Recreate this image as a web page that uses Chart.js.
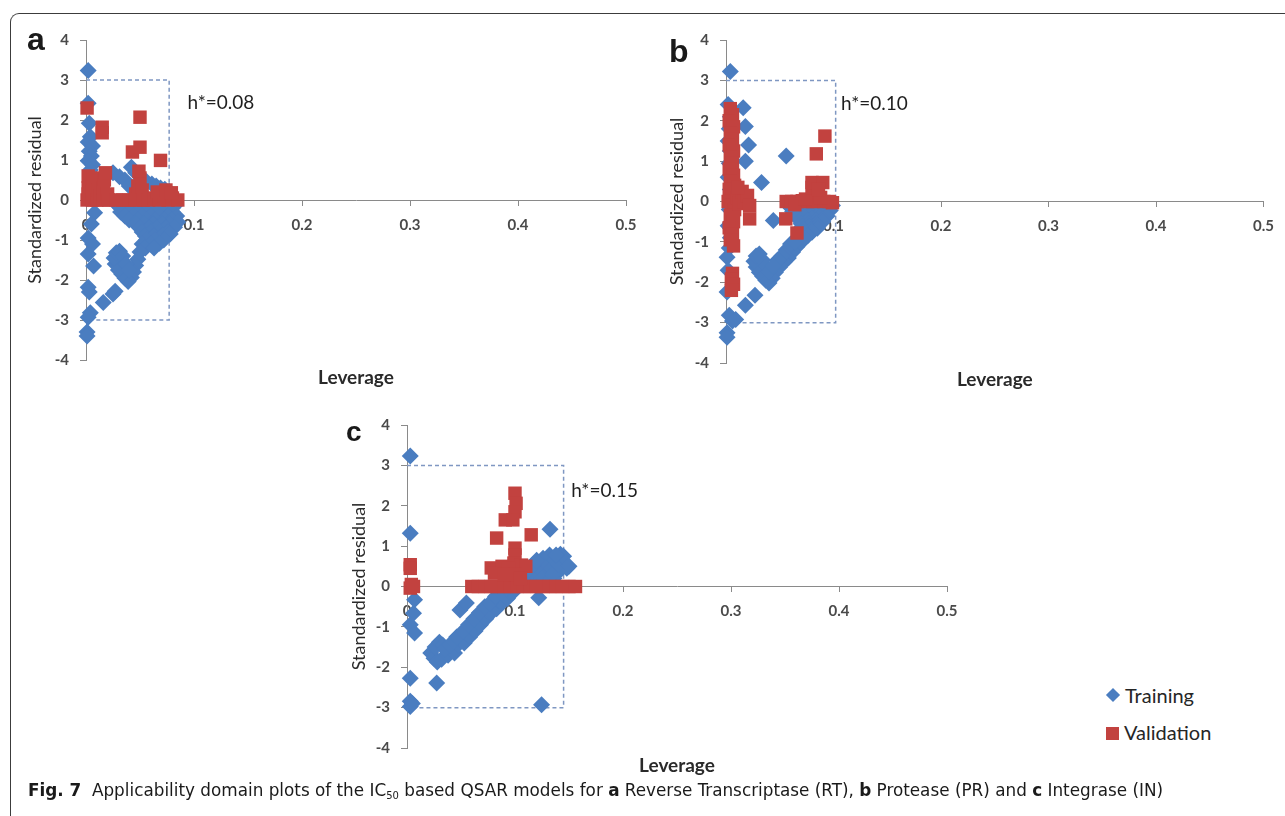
<!DOCTYPE html>
<html>
<head>
<meta charset="utf-8">
<title>Applicability domain plots</title>
<script src="https://cdn.jsdelivr.net/npm/chart.js@4.4.1/dist/chart.umd.min.js"></script>
<style>
  html, body { margin: 0; padding: 0; background: #fff; }
  body { position: relative; width: 1285px; height: 816px; overflow: hidden; font-family: Lato, "Open Sans", sans-serif; }
  .frame { position: absolute; left: 10px; top: 13px; width: 1400px; height: 900px; border-left: 1px solid #3c3c3c; border-top: 1px solid #3c3c3c; border-top-left-radius: 9px; }
  canvas { position: absolute; }
  .letter { position: absolute; font-family: "Liberation Sans", Arial, sans-serif; font-weight: bold; line-height: 1; color: #1a1a1a; }
  .legend-item { position: absolute; height: 24px; line-height: 24px; font-size: 20px; color: #262626; white-space: nowrap; }
  .legend-mark { position: absolute; }
  .caption { position: absolute; left: 28px; top: 779px; font-family: "Liberation Sans Narrow", "DejaVu Sans Condensed", "Open Sans", sans-serif; font-stretch: condensed; font-size: 18.5px; line-height: 22px; color: #1a1a1a; white-space: nowrap; transform-origin: 0 0; }
  .caption sub { font-size: 11px; vertical-align: -3px; line-height: 0; }
</style>
</head>
<body>
<div class="frame"></div>

<canvas id="chartA"></canvas>
<canvas id="chartB"></canvas>
<canvas id="chartC"></canvas>

<span class="letter" style="left:27px; top:23px; font-size:32px;">a</span>
<span class="letter" style="left:669px; top:35px; font-size:32px;">b</span>
<span class="letter" style="left:346px; top:418px; font-size:28px;">c</span>

<div id="legend"></div>

<div class="caption" id="caption"><b>Fig. 7</b>&nbsp; Applicability domain plots of the IC<sub>50</sub> based QSAR models for <b>a</b> Reverse Transcriptase (RT), <b>b</b> Protease (PR) and <b>c</b> Integrase (IN)</div>

<script>
// axis ticks
const xTicks = [0, 0.1, 0.2, 0.3, 0.4, 0.5];
const yTicks = [-4, -3, -2, -1, 0, 1, 2, 3, 4];

const seriesNames = ['Training', 'Validation'];
const seriesColors = ['#4a7dc0', '#c2423f'];
const boxColor = '#7f97c2';

// warning leverage h* (label and where the dashed line was drawn) and residual limit
const hStarLabels = ['h*=0.08', 'h*=0.10', 'h*=0.15'];
const hStarLines = [0.077, 0.102, 0.145];
const residualLimits = [-3, 3];

// a: Reverse Transcriptase [leverage, standardized residual]
const trainingA = [
  [0.002,3.24],[0.002,2.42],[0.003,1.92],[0.004,1.58],[0.002,1.45],[0.006,1.35],[0.003,1.22],[0.005,1.1],[0.002,0.98],[0.006,0.88],[0.004,0.75],
  [0.008,-0.32],[0.005,-0.6],[0.002,-0.95],[0.006,-1.1],[0.002,-1.35],[0.007,-1.65],[0.002,-2.18],[0.003,-2.3],[0.004,-2.82],[0.002,-2.93],[0.001,-3.3],[0.001,-3.4],
  [0.025,0.68],[0.031,0.58],[0.036,0.5],[0.042,0.82],[0.046,0.68],[0.051,0.55],[0.056,0.46],[0.061,0.4],[0.065,0.35],[0.069,0.3],[0.073,0.27],[0.077,0.22],[0.04,0.35],
  [0.028,-0.1],[0.036,-0.1],[0.044,-0.1],[0.052,-0.1],[0.06,-0.1],[0.068,-0.1],[0.076,-0.1],[0.083,-0.12],
  [0.032,-0.2],[0.04,-0.2],[0.048,-0.2],[0.056,-0.2],[0.064,-0.2],[0.072,-0.2],[0.08,-0.2],
  [0.032,-0.3],[0.04,-0.3],[0.048,-0.3],[0.056,-0.3],[0.064,-0.3],[0.072,-0.3],[0.08,-0.3],
  [0.036,-0.4],[0.044,-0.4],[0.052,-0.4],[0.06,-0.4],[0.068,-0.4],[0.076,-0.4],[0.084,-0.4],
  [0.04,-0.5],[0.048,-0.5],[0.056,-0.5],[0.064,-0.5],[0.072,-0.5],[0.08,-0.5],[0.085,-0.55],
  [0.046,-0.6],[0.054,-0.6],[0.062,-0.6],[0.07,-0.6],[0.078,-0.6],
  [0.05,-0.7],[0.058,-0.7],[0.066,-0.7],[0.074,-0.7],[0.082,-0.68],
  [0.052,-0.8],[0.06,-0.8],[0.068,-0.8],[0.076,-0.8],
  [0.055,-0.9],[0.063,-0.9],[0.071,-0.88],[0.078,-0.85],
  [0.056,-1.0],[0.064,-1.0],[0.072,-1.0],
  [0.052,-1.1],[0.06,-1.1],[0.068,-1.08],[0.055,-1.2],[0.063,-1.2],
  [0.05,-1.3],[0.048,-1.48],[0.046,-1.64],[0.044,-1.8],[0.042,-1.94],[0.039,-2.04],
  [0.036,-1.95],[0.033,-1.85],[0.03,-1.75],[0.027,-1.6],[0.026,-1.45],[0.028,-1.32],[0.031,-1.28],[0.034,-1.4],[0.037,-1.6],[0.04,-1.75],
  [0.016,-2.56],[0.025,-2.35],[0.027,-2.28]
];
const validationA = [
  [0.001,2.3],[0.015,1.82],[0.015,1.68],[0.05,2.07],[0.043,1.2],[0.05,1.32],[0.069,0.99],
  [0.001,0.0],[0.002,0.15],[0.002,0.3],[0.003,0.45],[0.002,0.6],[0.006,0.0],[0.006,0.2],[0.006,0.4],[0.007,0.55],[0.01,0.0],[0.011,0.25],[0.013,0.1],
  [0.016,0.0],[0.016,0.3],[0.017,0.5],[0.018,0.68],[0.02,0.15],[0.021,0.0],
  [0.046,0.15],[0.048,0.35],[0.05,0.55],[0.049,0.72],[0.052,0.25],
  [0.028,0.0],[0.034,0.0],[0.04,0.0],[0.046,0.0],[0.053,0.0],[0.058,0.0],[0.063,0.05],[0.068,0.0],[0.072,0.1],[0.076,0.0],[0.08,0.05],[0.085,0.0],
  [0.066,0.2],[0.074,0.25],[0.079,0.18]
];

// b: Protease
const trainingB = [
  [0.004,3.22],[0.002,2.4],[0.004,2.1],[0.003,1.8],[0.002,1.5],[0.004,1.25],[0.003,0.95],[0.002,0.6],[0.004,0.3],[0.003,-0.2],[0.002,-0.6],
  [0.004,-0.9],[0.003,-1.15],[0.001,-1.38],[0.002,-1.7],[0.001,-2.24],[0.003,-2.82],[0.006,-2.96],[0.009,-2.92],[0.001,-3.25],[0.001,-3.36],
  [0.016,2.32],[0.018,1.86],[0.021,1.4],[0.018,1.0],[0.033,0.47],[0.056,1.13],
  [0.018,-2.57],[0.027,-2.32],[0.044,-0.47],
  [0.058,-0.1],[0.065,-0.1],[0.072,-0.1],[0.079,-0.1],[0.086,-0.1],[0.093,-0.1],[0.099,-0.1],
  [0.061,-0.17],[0.068,-0.17],[0.075,-0.17],[0.082,-0.17],[0.089,-0.17],[0.096,-0.17],
  [0.062,-0.25],[0.069,-0.25],[0.076,-0.25],[0.083,-0.25],[0.09,-0.25],[0.097,-0.22],
  [0.065,-0.32],[0.072,-0.32],[0.079,-0.32],[0.086,-0.32],[0.093,-0.3],
  [0.066,-0.4],[0.073,-0.4],[0.08,-0.4],[0.087,-0.4],[0.094,-0.36],
  [0.069,-0.47],[0.076,-0.47],[0.083,-0.47],[0.09,-0.44],
  [0.07,-0.55],[0.077,-0.55],[0.084,-0.55],[0.09,-0.5],
  [0.071,-0.62],[0.078,-0.62],[0.085,-0.6],
  [0.072,-0.7],[0.079,-0.7],[0.085,-0.66],[0.074,-0.78],[0.08,-0.76],[0.076,-0.85],
  [0.07,-1.0],[0.066,-1.12],[0.062,-1.25],[0.058,-1.4],[0.054,-1.5],[0.05,-1.62],[0.046,-1.75],[0.043,-1.9],[0.04,-2.02],[0.056,-1.2],[0.06,-1.05],[0.052,-1.35],
  [0.073,-0.92],[0.064,-1.0],[0.048,-1.45],
  [0.037,-1.95],[0.034,-1.85],[0.031,-1.75],[0.028,-1.62],[0.026,-1.48],[0.028,-1.35],[0.031,-1.3],[0.034,-1.45],[0.037,-1.6],[0.04,-1.75],[0.044,-1.6]
];
const validationB = [
  [0.004,2.3],[0.006,2.15],[0.003,2.0],[0.007,1.85],[0.004,1.7],[0.006,1.55],[0.003,1.4],[0.007,1.25],[0.004,1.1],[0.006,0.95],[0.003,0.8],[0.007,0.65],
  [0.004,0.5],[0.008,0.4],[0.003,0.3],[0.006,0.15],[0.002,0.0],[0.005,-0.1],[0.008,-0.2],[0.004,-0.35],[0.007,-0.5],[0.003,-0.65],[0.006,-0.8],[0.004,-0.95],[0.007,-1.1],
  [0.01,0.1],[0.012,-0.05],[0.015,0.25],[0.017,0.0],[0.02,0.15],[0.022,-0.1],[0.011,0.35],[0.022,-0.43],
  [0.006,-1.78],[0.005,-1.92],[0.007,-2.05],[0.005,-2.2],
  [0.056,0.0],[0.061,0.0],[0.066,0.0],[0.071,0.02],[0.076,0.0],[0.081,0.0],[0.086,0.02],[0.091,0.0],[0.096,0.0],[0.099,-0.03],[0.064,-0.08],[0.074,0.06],[0.088,0.1],
  [0.08,0.35],[0.08,0.47],[0.09,0.47],[0.086,0.3],[0.084,1.18],[0.092,1.62],[0.0556,-0.43],[0.066,-0.78]
];

// c: Integrase
const trainingC = [
  [0.003,3.23],[0.003,1.32],[0.007,-0.33],[0.006,-0.66],[0.003,-0.95],[0.007,-1.15],[0.003,-2.27],[0.003,-2.84],[0.003,-2.97],[0.005,-2.9],
  [0.0275,-2.39],[0.1246,-2.93],[0.1324,1.42],
  [0.022,-1.65],[0.025,-1.78],[0.028,-1.87],[0.032,-1.8],[0.026,-1.5],[0.03,-1.38],[0.033,-1.45],
  [0.038,-1.7],[0.041,-1.55],[0.044,-1.65],[0.047,-1.45],[0.05,-1.3],[0.053,-1.4],[0.055,-1.15],[0.058,-1.25],[0.06,-1.0],[0.063,-1.1],
  [0.065,-0.85],[0.068,-0.95],[0.07,-0.7],[0.073,-0.8],[0.075,-0.6],[0.078,-0.65],[0.08,-0.45],[0.083,-0.55],[0.085,-0.35],[0.088,-0.4],
  [0.09,-0.22],[0.093,-0.3],[0.095,-0.12],[0.098,-0.15],[0.1,-0.05],[0.103,0.0],
  [0.035,-1.55],[0.04,-1.45],[0.043,-1.35],[0.046,-1.25],[0.052,-1.1],[0.057,-0.95],[0.062,-0.8],[0.067,-0.65],[0.072,-0.5],[0.077,-0.4],
  [0.082,-0.25],[0.087,-0.15],[0.092,-0.05],[0.097,0.05],
  [0.105,0.1],[0.108,0.2],[0.11,0.05],[0.113,0.25],[0.116,0.15],[0.118,0.35],[0.12,0.25],[0.122,0.5],[0.124,0.4],[0.126,0.7],[0.128,0.3],
  [0.13,0.55],[0.132,0.78],[0.134,0.45],[0.137,0.65],[0.14,0.35],[0.142,0.8],[0.145,0.6],[0.148,0.45],[0.136,0.2],[0.122,-0.28],
  [0.102,0.15],[0.107,0.3],[0.112,0.4],[0.117,0.55],[0.12,0.65],[0.125,0.2],[0.13,0.1],[0.135,0.3],[0.14,0.55],[0.145,0.75],[0.138,0.78],[0.15,0.5],
  [0.049,-0.58],[0.055,-0.41]
];
const validationC = [
  [0.003,0.54],[0.003,0.45],[0.004,0.05],[0.003,-0.04],[0.006,0.0],
  [0.06,0.0],[0.066,0.0],[0.072,0.0],[0.078,0.0],[0.084,0.0],[0.09,0.0],[0.096,0.0],[0.102,0.0],[0.108,0.0],[0.114,0.0],[0.12,0.0],
  [0.126,0.0],[0.132,0.0],[0.138,0.0],[0.144,0.0],[0.15,0.0],[0.156,0.0],
  [0.1,2.31],[0.101,2.06],[0.1,1.85],[0.091,1.65],[0.098,1.65],[0.083,1.2],[0.115,1.28],[0.1,0.95],[0.1,0.78],[0.099,0.58],
  [0.106,0.53],[0.11,0.5],[0.078,0.46],[0.088,0.5],[0.094,0.45],[0.081,0.33],[0.09,0.3],[0.1,0.3],[0.105,0.2]
];

// where each panel sits on the page (canvas box, plot area, titles, h* note)
const panelBoxes = [
  { left: 15, top: 20, width: 650, height: 385, area: [86, 37, 626, 360], yTitleX: 35, xTitleY: 378, note: [0.094, 2.44] },
  { left: 655, top: 20, width: 630, height: 385, area: [726, 38, 1266, 363], yTitleX: 677, xTitleY: 380, note: [0.107, 2.42] },
  { left: 335, top: 405, width: 640, height: 375, area: [407, 425, 947, 748], yTitleX: 359, xTitleY: 766, note: [0.152, 2.36] }
];

Chart.defaults.font.family = 'Lato, "Open Sans", sans-serif';
Chart.defaults.color = '#333';

// draws the "h*=..." note at a data position
const noteLabel = {
  id: 'noteLabel',
  afterDatasetsDraw(chart, args, opts) {
    const ctx = chart.ctx;
    ctx.save();
    ctx.font = '19px Lato, "Open Sans", sans-serif';
    ctx.fillStyle = '#1f1f1f';
    ctx.textBaseline = 'middle';
    ctx.fillText(opts.text, chart.scales.x.getPixelForValue(opts.x), chart.scales.y.getPixelForValue(opts.y));
    ctx.restore();
  }
};

function toPoints(list) {
  return list.map(p => ({ x: p[0], y: p[1] }));
}

function createPanel(canvasId, box, training, validation, hLine, hText) {
  const canvas = document.getElementById(canvasId);
  canvas.width = box.width;
  canvas.height = box.height;
  canvas.style.left = box.left + 'px';
  canvas.style.top = box.top + 'px';

  const areaLeft = box.area[0] - box.left;
  const areaTop = box.area[1] - box.top;
  const areaRight = box.area[2] - box.left;
  const areaBottom = box.area[3] - box.top;
  const yTitleSize = 18;
  const xTitleSize = 19;
  const yTitlePad = (box.yTitleX - box.left) - yTitleSize * 1.2 / 2;
  const xTitlePad = box.height - (box.xTitleY - box.top) - xTitleSize * 1.2 / 2;
  const axisColor = '#8a8a8a';
  const tickFont = { size: 15, weight: 'bold' };

  return new Chart(canvas, {
    type: 'scatter',
    data: {
      datasets: [
        {
          label: seriesNames[1],
          data: toPoints(validation),
          pointStyle: 'rect',
          pointRadius: 9.5,
          pointBorderWidth: 0,
          backgroundColor: seriesColors[1],
          borderColor: seriesColors[1],
          clip: false,
          order: 0
        },
        {
          label: seriesNames[0],
          data: toPoints(training),
          pointStyle: 'rectRot',
          pointRadius: 8.5,
          pointBorderWidth: 0,
          backgroundColor: seriesColors[0],
          borderColor: seriesColors[0],
          clip: false,
          order: 1
        },
        {
          type: 'line',
          label: 'h*',
          data: [
            { x: 0, y: residualLimits[1] },
            { x: hLine, y: residualLimits[1] },
            { x: hLine, y: residualLimits[0] },
            { x: 0, y: residualLimits[0] }
          ],
          borderColor: boxColor,
          borderWidth: 1.5,
          borderDash: [4, 3],
          pointRadius: 0,
          fill: false,
          tension: 0,
          clip: false,
          order: 2
        }
      ]
    },
    options: {
      responsive: false,
      animation: false,
      events: [],
      layout: { padding: { left: 0, top: areaTop, right: box.width - areaRight, bottom: 0 } },
      plugins: {
        legend: { display: false },
        tooltip: { enabled: false },
        noteLabel: { text: hText, x: box.note[0], y: box.note[1] }
      },
      scales: {
        x: {
          type: 'linear',
          position: { y: 0 },
          min: 0,
          max: 0.5,
          afterBuildTicks: (scale) => { scale.ticks = xTicks.map(v => ({ value: v })); },
          afterFit: (scale) => { scale.height = 0; },
          grid: { drawOnChartArea: false, color: axisColor, tickLength: 5 },
          border: { color: axisColor },
          ticks: { padding: 11, font: tickFont, color: '#4a4a4a', callback: (v) => String(v) }
        },
        y: {
          type: 'linear',
          position: 'left',
          min: -4,
          max: 4,
          afterBuildTicks: (scale) => { scale.ticks = yTicks.map(v => ({ value: v })); },
          afterFit: (scale) => { scale.width = areaLeft; },
          grid: { drawOnChartArea: false, color: axisColor, tickLength: 6 },
          border: { color: axisColor },
          ticks: { padding: 11, font: tickFont, color: '#4a4a4a', callback: (v) => String(v) },
          title: {
            display: true,
            text: 'Standardized residual',
            color: '#2a2a2a',
            font: { size: yTitleSize },
            padding: { top: yTitlePad, bottom: 0 }
          }
        },
        xt: {
          type: 'linear',
          position: 'bottom',
          min: 0,
          max: 0.5,
          afterFit: (scale) => { scale.height = box.height - areaBottom; },
          grid: { display: false },
          border: { display: false },
          ticks: { display: false },
          title: {
            display: true,
            text: 'Leverage',
            color: '#2a2a2a',
            font: { size: xTitleSize, weight: 'bold' },
            padding: { top: 0, bottom: xTitlePad }
          }
        }
      }
    },
    plugins: [noteLabel]
  });
}

createPanel('chartA', panelBoxes[0], trainingA, validationA, hStarLines[0], hStarLabels[0]);
createPanel('chartB', panelBoxes[1], trainingB, validationB, hStarLines[1], hStarLabels[1]);
createPanel('chartC', panelBoxes[2], trainingC, validationC, hStarLines[2], hStarLabels[2]);

// legend beside panel c
function buildLegend() {
  const legend = document.getElementById('legend');
  const marks = [
    { left: 1108, top: 690, size: 10, rotate: 45 },
    { left: 1106, top: 727, size: 13, rotate: 0 }
  ];
  const texts = [{ left: 1125, top: 683 }, { left: 1124, top: 720 }];
  seriesNames.forEach((name, i) => {
    const mark = document.createElement('div');
    mark.className = 'legend-mark';
    mark.style.left = marks[i].left + 'px';
    mark.style.top = marks[i].top + 'px';
    mark.style.width = marks[i].size + 'px';
    mark.style.height = marks[i].size + 'px';
    mark.style.background = seriesColors[i];
    mark.style.transform = 'rotate(' + marks[i].rotate + 'deg)';
    legend.appendChild(mark);

    const item = document.createElement('div');
    item.className = 'legend-item';
    item.style.left = texts[i].left + 'px';
    item.style.top = texts[i].top + 'px';
    item.textContent = name;
    legend.appendChild(item);
  });
}
buildLegend();

// squeeze the caption to the width it has in the figure
const caption = document.getElementById('caption');
const captionWidth = 1135;
caption.style.transform = 'scaleX(' + (captionWidth / caption.offsetWidth) + ')';
</script>
</body>
</html>
